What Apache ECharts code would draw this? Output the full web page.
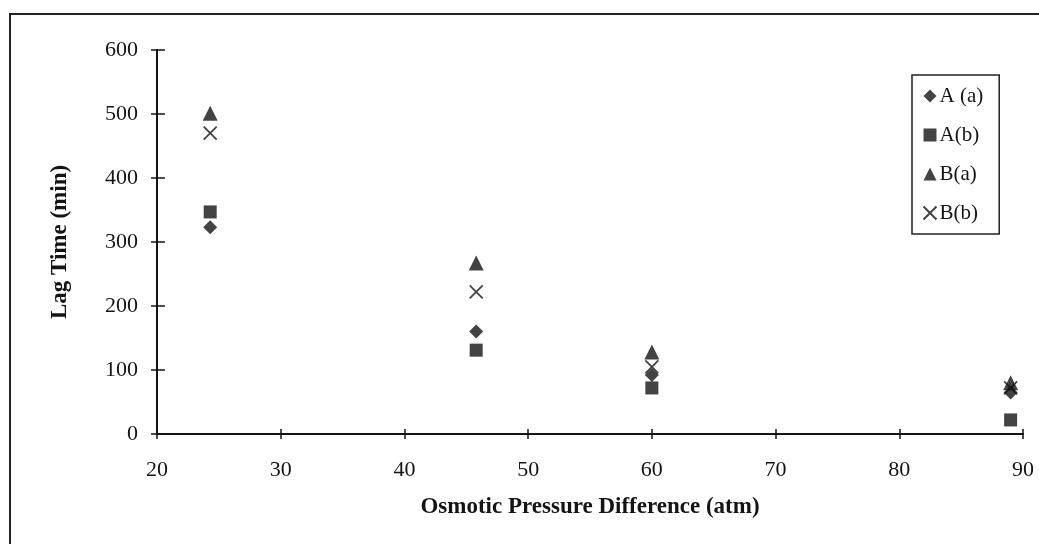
<!DOCTYPE html>
<html>
<head>
<meta charset="utf-8">
<script src="https://cdn.jsdelivr.net/npm/echarts@6/dist/echarts.min.js"></script>
<style>
  html, body { margin: 0; padding: 0; background: #fff; }
  #chart { width: 1039px; height: 544px; }
</style>
</head>
<body>
<div id="chart"></div>
<script>
// 渗透压差 (atm)
const pressure = [24.3, 45.8, 60.0, 89.0];
// 各组滞后时间 (min)
const lagAa = [323, 160, 92, 65];
const lagAb = [347, 131, 72, 22];
const lagBa = [501, 267, 128, 80];
const lagBb = [470, 222, 105, 72];

const xTicks = [20, 30, 40, 50, 60, 70, 80, 90];
const yTicks = [0, 100, 200, 300, 400, 500, 600];

const crossPath = 'path://M0,0L10,10M10,0L0,10';
const ink = '#141414';
const font = '"Liberation Serif", "DejaVu Serif", serif';

function pairs(ys) {
  return pressure.map((x, i) => [x, ys[i]]);
}

// 刻度线穿过轴线：外侧一套、内侧一套
function xAxisBase(inside) {
  return {
    type: 'value', min: 20, max: 90, interval: 10,
    position: 'bottom',
    axisLine: { show: !inside, onZero: false, lineStyle: { color: ink, width: 2 } },
    axisTick: { show: true, inside: inside, length: 5, lineStyle: { color: ink, width: 1.5 } },
    splitLine: { show: false }
  };
}
function yAxisBase(inside) {
  return {
    type: 'value', min: 0, max: 600, interval: 100,
    position: 'left',
    axisLine: { show: !inside, onZero: false, lineStyle: { color: ink, width: 2 } },
    axisTick: { show: true, inside: inside, length: inside ? 8 : 6, lineStyle: { color: ink, width: 1.5 } },
    splitLine: { show: false }
  };
}

const chart = echarts.init(document.getElementById('chart'), null, { renderer: 'canvas' });

const option = {
  backgroundColor: '#fff',
  animation: false,
  textStyle: { fontFamily: font, color: ink },
  graphic: [{
    type: 'rect',
    shape: { x: 10, y: 14, width: 1040, height: 540 },
    style: { fill: 'none', stroke: '#222', lineWidth: 2 },
    z: -1
  }],
  grid: { left: 157, right: 16, top: 50, bottom: 110 },
  legend: {
    orient: 'vertical',
    left: 912,
    top: 75,
    padding: [10, 16, 10, 9],
    itemGap: 17,
    itemWidth: 13,
    itemHeight: 13,
    borderColor: '#222',
    borderWidth: 1.5,
    textStyle: { fontFamily: font, fontSize: 21, lineHeight: 22, color: ink, padding: [0, 0, 0, -2] },
    data: ['A (a)', 'A(b)', 'B(a)', 'B(b)']
  },
  xAxis: [
    Object.assign(xAxisBase(false), {
      name: 'Osmotic Pressure Difference (atm)',
      nameLocation: 'middle',
      nameGap: 62,
      nameTextStyle: { fontFamily: font, fontSize: 23, fontWeight: 'bold', color: ink },
      axisLabel: {
        fontFamily: font, fontSize: 22, color: ink, margin: 25,
        formatter: v => (xTicks.indexOf(v) >= 0 ? String(v) : '')
      }
    }),
    Object.assign(xAxisBase(true), { axisLabel: { show: false } })
  ],
  yAxis: [
    Object.assign(yAxisBase(false), {
      name: 'Lag Time (min)',
      nameLocation: 'middle',
      nameGap: 85,
      nameTextStyle: { fontFamily: font, fontSize: 23, fontWeight: 'bold', color: ink },
      axisLabel: {
        fontFamily: font, fontSize: 22, color: ink, margin: 19,
        formatter: v => (yTicks.indexOf(v) >= 0 ? String(v) : '')
      }
    }),
    Object.assign(yAxisBase(true), { axisLabel: { show: false } })
  ],
  series: [
    {
      name: 'A (a)', type: 'scatter', symbol: 'diamond', symbolSize: 14,
      itemStyle: { color: ink }, data: pairs(lagAa)
    },
    {
      name: 'A(b)', type: 'scatter', symbol: 'rect', symbolSize: 13,
      itemStyle: { color: ink }, data: pairs(lagAb)
    },
    {
      name: 'B(a)', type: 'scatter', symbol: 'triangle', symbolSize: 15,
      itemStyle: { color: ink }, data: pairs(lagBa)
    },
    {
      name: 'B(b)', type: 'scatter', symbol: crossPath, symbolSize: 13,
      itemStyle: { color: 'none', borderColor: ink, borderWidth: 1.8 },
      data: pairs(lagBb)
    }
  ]
};

chart.setOption(option);
</script>
</body>
</html>
